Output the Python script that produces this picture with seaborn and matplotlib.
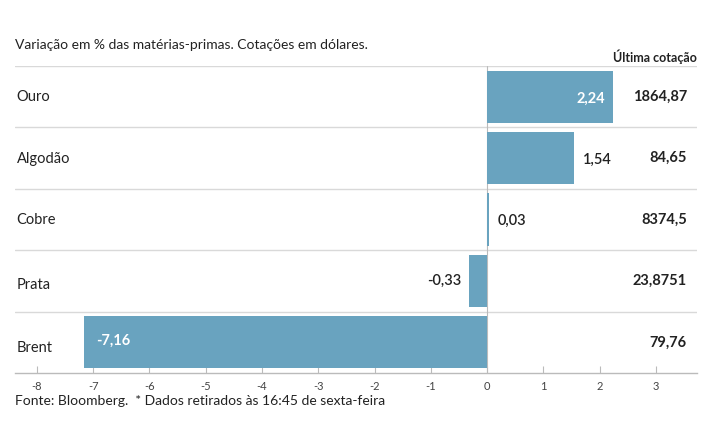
import matplotlib
matplotlib.use("Agg")
import matplotlib.pyplot as plt
import seaborn as sns
import pandas as pd
from matplotlib.ticker import FixedLocator, FuncFormatter

categories = ["Ouro", "Algodão", "Cobre", "Prata", "Brent"]
changes = [2.24, 1.54, 0.03, -0.33, -7.16]
last_prices = ["1864,87", "84,65", "8374,5", "23,8751", "79,76"]
xticks = [-8, -7, -6, -5, -4, -3, -2, -1, 0, 1, 2, 3]

title = "Variação em % das matérias-primas. Cotações em dólares."
col_header = "Última cotação"
footer = "Fonte: Bloomberg.  * Dados retirados às 16:45 de sexta-feira"

sns.set_theme(style="white")
plt.rcParams["font.family"] = ["Lato", "DejaVu Sans"]

BAR = "#69a3bf"
TXT = "#222222"

df = pd.DataFrame({"cat": categories, "chg": changes})

fig = plt.figure(figsize=(7.15, 4.45), dpi=100)
ax = fig.add_axes([15 / 715, 1 - 373 / 445, (697 - 15) / 715, (373 - 66) / 445])

sns.barplot(data=df, x="chg", y="cat", orient="h", color=BAR, saturation=1,
            width=0.85, ax=ax, edgecolor="none")

ax.set_xlim(-8.39, 3.73)
ax.set_ylim(4.5, -0.5)

for s in ["top", "right", "left"]:
    ax.spines[s].set_visible(False)
ax.spines["bottom"].set_color("#bbbbbb")
ax.spines["bottom"].set_linewidth(1)

# row separators
for yy in [-0.5, 0.5, 1.5, 2.5, 3.5]:
    ax.axhline(yy, color="#d9d9d9", lw=1, zorder=0)
ax.axvline(0, color="#bbbbbb", lw=0.8, zorder=0.5)

ax.xaxis.set_major_locator(FixedLocator(xticks))
ax.xaxis.set_major_formatter(FuncFormatter(lambda v, p: f"{int(v)}"))
ax.tick_params(axis="x", direction="in", length=5, width=0.8, color="#bbbbbb",
               labelsize=8, labelcolor="#444444", pad=6, bottom=True)
ax.set_yticks([])
ax.set_xlabel("")
ax.set_ylabel("")

def fmt(v):
    return f"{v:.2f}".replace(".", ",")

label_dy = [0.0, 0.02, 0.0, 0.06, 0.1]
for i, (c, v, lp) in enumerate(zip(categories, changes, last_prices)):
    ax.text(-8.36, i + label_dy[i], c, ha="left", va="center", fontsize=10.5, color=TXT)
    inside = abs(v) > 2
    if v >= 0:
        if inside:
            ax.text(v - 0.15, i + 0.03, fmt(v), ha="right", va="center",
                    fontsize=10.5, color="white", fontweight="bold")
        else:
            ax.text(v + 0.16, i + 0.03, fmt(v), ha="left", va="center",
                    fontsize=10.5, color=TXT, fontweight="semibold")
    else:
        if inside:
            ax.text(v + 0.22, i - 0.03, fmt(v), ha="left", va="center",
                    fontsize=10.5, color="white", fontweight="bold")
        else:
            ax.text(v - 0.12, i, fmt(v), ha="right", va="center",
                    fontsize=10.5, color=TXT, fontweight="semibold")
    ax.text(0.985, i, lp, transform=ax.get_yaxis_transform(), ha="right",
            va="center", fontsize=10.5, fontweight="bold", color=TXT)

fig.text(15 / 715, 1 - 45 / 445, title, ha="left", va="center",
         fontsize=10, color=TXT)
fig.text(697 / 715, 1 - 57 / 445, col_header, ha="right", va="center",
         fontsize=9, fontweight="bold", color=TXT)
fig.text(15 / 715, 1 - 401 / 445, footer, ha="left", va="center",
         fontsize=10, color=TXT)

fig.savefig("out.png", dpi=100)
